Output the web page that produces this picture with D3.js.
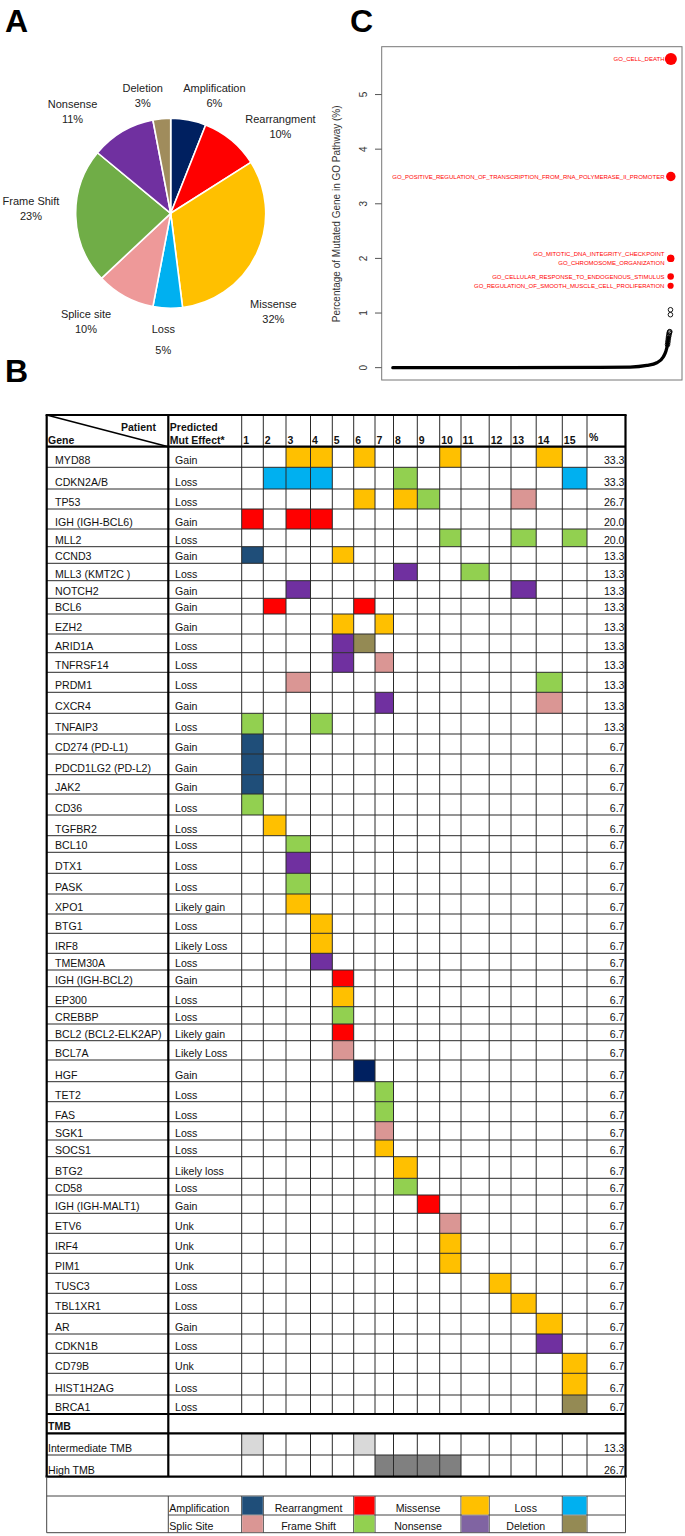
<!DOCTYPE html>
<html><head><meta charset="utf-8">
<script src="https://cdn.jsdelivr.net/npm/d3@7"></script>
<style>
html,body{margin:0;padding:0;background:#fff;}
svg{display:block;font-family:"Liberation Sans",Arial,sans-serif;}
</style></head><body>
<svg id="fig" width="685" height="1536"></svg>
<script>
// ================= DATA =================
// Panel A: mutation-type distribution (%)
const pieCategories = ["Amplification","Rearrangment","Missense","Loss","Splice site","Frame Shift","Nonsense","Deletion"];
const piePercents   = [6, 10, 32, 5, 10, 23, 11, 3];

// Panel C: percentage of mutated genes per GO pathway (sorted ascending)
const goPathwayCount = 5000;
const goCurveRanks  = [1, 3726, 4266, 4567, 4747, 4866, 4910, 4939, 4957];
const goCurveValues = [0, 0.005, 0.01, 0.04, 0.09, 0.2, 0.3, 0.42, 0.55];
const goTailRanks   = [4940, 4945, 4950, 4955, 4960, 4965, 4970, 4975, 4980, 4992, 4993];
const goTailValues  = [0.42, 0.46, 0.5, 0.54, 0.57, 0.6, 0.63, 0.65, 0.66, 0.97, 1.06];
const goTopTerms = [
  "GO_REGULATION_OF_SMOOTH_MUSCLE_CELL_PROLIFERATION",
  "GO_CELLULAR_RESPONSE_TO_ENDOGENOUS_STIMULUS",
  "GO_CHROMOSOME_ORGANIZATION",
  "GO_MITOTIC_DNA_INTEGRITY_CHECKPOINT",
  "GO_POSITIVE_REGULATION_OF_TRANSCRIPTION_FROM_RNA_POLYMERASE_II_PROMOTER",
  "GO_CELL_DEATH"];
const goTopValues = [1.5, 1.67, 2.0, 2.0, 3.5, 5.65];
const goYTicks = [0, 1, 2, 3, 4, 5];
const goYTitle = "Percentage of Mutated Gene in GO Pathway (%)";

// Panel B: oncoprint table
const patients = [1,2,3,4,5,6,7,8,9,10,11,12,13,14,15];
const genes = ["MYD88","CDKN2A/B","TP53","IGH (IGH-BCL6)","MLL2","CCND3","MLL3  (KMT2C )","NOTCH2","BCL6","EZH2",
  "ARID1A","TNFRSF14","PRDM1","CXCR4","TNFAIP3","CD274 (PD-L1)","PDCD1LG2 (PD-L2)","JAK2","CD36","TGFBR2",
  "BCL10","DTX1","PASK","XPO1","BTG1","IRF8","TMEM30A","IGH (IGH-BCL2)","EP300","CREBBP",
  "BCL2 (BCL2-ELK2AP)","BCL7A","HGF","TET2","FAS","SGK1","SOCS1","BTG2","CD58","IGH (IGH-MALT1)",
  "ETV6","IRF4","PIM1","TUSC3","TBL1XR1","AR","CDKN1B","CD79B","HIST1H2AG","BRCA1"];
const predictedEffect = ["Gain","Loss","Loss","Gain","Loss","Gain","Loss","Gain","Gain","Gain",
  "Loss","Loss","Loss","Gain","Loss","Gain","Gain","Gain","Loss","Loss",
  "Loss","Loss","Loss","Likely gain","Loss","Likely Loss","Loss","Gain","Loss","Loss",
  "Likely gain","Likely Loss","Gain","Loss","Loss","Loss","Loss","Likely loss","Loss","Gain",
  "Unk","Unk","Unk","Loss","Loss","Gain","Loss","Unk","Loss","Loss"];
const genePercent = ["33.3","33.3","26.7","20.0","20.0","13.3","13.3","13.3","13.3","13.3",
  "13.3","13.3","13.3","13.3","13.3","6.7","6.7","6.7","6.7","6.7",
  "6.7","6.7","6.7","6.7","6.7","6.7","6.7","6.7","6.7","6.7",
  "6.7","6.7","6.7","6.7","6.7","6.7","6.7","6.7","6.7","6.7",
  "6.7","6.7","6.7","6.7","6.7","6.7","6.7","6.7","6.7","6.7"];
// [patient, mutation type]
const geneMutations = [
  [[3,"Missense"],[4,"Missense"],[6,"Missense"],[10,"Missense"],[14,"Missense"]],
  [[2,"Loss"],[3,"Loss"],[4,"Loss"],[8,"Frame Shift"],[15,"Loss"]],
  [[6,"Missense"],[8,"Missense"],[9,"Frame Shift"],[13,"Splice site"]],
  [[1,"Rearrangment"],[3,"Rearrangment"],[4,"Rearrangment"]],
  [[10,"Frame Shift"],[13,"Frame Shift"],[15,"Frame Shift"]],
  [[1,"Amplification"],[5,"Missense"]],
  [[8,"Nonsense"],[11,"Frame Shift"]],
  [[3,"Nonsense"],[13,"Nonsense"]],
  [[2,"Rearrangment"],[6,"Rearrangment"]],
  [[5,"Missense"],[7,"Missense"]],
  [[5,"Nonsense"],[6,"Deletion"]],
  [[5,"Nonsense"],[7,"Splice site"]],
  [[3,"Splice site"],[14,"Frame Shift"]],
  [[7,"Nonsense"],[14,"Splice site"]],
  [[1,"Frame Shift"],[4,"Frame Shift"]],
  [[1,"Amplification"]],
  [[1,"Amplification"]],
  [[1,"Amplification"]],
  [[1,"Frame Shift"]],
  [[2,"Missense"]],
  [[3,"Frame Shift"]],
  [[3,"Nonsense"]],
  [[3,"Frame Shift"]],
  [[3,"Missense"]],
  [[4,"Missense"]],
  [[4,"Missense"]],
  [[4,"Nonsense"]],
  [[5,"Rearrangment"]],
  [[5,"Missense"]],
  [[5,"Frame Shift"]],
  [[5,"Rearrangment"]],
  [[5,"Splice site"]],
  [[6,"Amplification"]],
  [[7,"Frame Shift"]],
  [[7,"Frame Shift"]],
  [[7,"Splice site"]],
  [[7,"Missense"]],
  [[8,"Missense"]],
  [[8,"Frame Shift"]],
  [[9,"Rearrangment"]],
  [[10,"Splice site"]],
  [[10,"Missense"]],
  [[10,"Missense"]],
  [[12,"Missense"]],
  [[13,"Missense"]],
  [[14,"Missense"]],
  [[14,"Nonsense"]],
  [[15,"Missense"]],
  [[15,"Missense"]],
  [[15,"Deletion"]]
];
const tmbLevels   = ["Intermediate TMB","High TMB"];
const tmbPatients = [[1,6],[7,8,9,10]];
const tmbPercent  = ["13.3","26.7"];
const legendRow1 = ["Amplification","Rearrangment","Missense","Loss"];
const legendRow2 = ["Splic Site","Frame Shift","Nonsense","Deletion"];

// ================= STYLE / LAYOUT =================
const pieColors = ["#002060","#FF0000","#FFC000","#00B0F0","#EE9999","#70AD47","#7030A0","#A08C5C"];
const pieLabelLayout = [ // angle (deg from 12 o'clock), distance, line gap
  {a:20.3,r:126,g:15},{a:51.6,r:140,g:15},{a:133.6,r:141.7,g:15},{a:183.35,r:126.6,g:20.7},
  {a:218,r:137.6,g:15},{a:272,r:139.8,g:15},{a:316,r:141.4,g:15},{a:346.6,r:120.8,g:15}];
const cellColors = {"Amplification":"#1F4E79","Rearrangment":"#FF0000","Missense":"#FFC000","Loss":"#00B0F0",
  "Splice site":"#DA9694","Frame Shift":"#92D050","Nonsense":"#7030A0","Deletion":"#948A54"};
const cellOverride = {"HGF|6":"#002060"};
const legendColors1 = ["#1F4E79","#FF0000","#FFC000","#00B0F0"];
const legendColors2 = ["#DA9694","#92D050","#8064A2","#948A54"];
const tmbColors = ["#D9D9D9","#808080"];
const T = {left:46.7, geneR:168.3, predR:241.7, right:625.5, top:415, headB:446.7};
const colW = [21.6,22.7,24.5,21.8,21.4,21.3,18.5,23.8,22.4,21.3,28.2,21.8,25.2,26.1,24.7];
const rowH = [20.6,21.7,20,20,17.7,16.6,17.4,17.6,15.7,20,18.7,19.6,20,21,20.7,20,20.7,19.3,21,20.7,
  16.6,21,20.7,20,19.3,20,16.7,16.7,20,17.3,16.7,19.3,21.7,20,20,18.3,16.7,21.6,16.7,18.3,
  20,20,20,20,20,20.7,19.3,20,21.7,19];
const tmbRowH = [19.3,21.7,21.7];
const legendRowH = [19.3,19,17.7];

// ================= DRAW =================
const svg = d3.select("#fig");
const TXT = "#111";

// panel letters
[["A",5,31.5],["B",5,382],["C",350,31.5]].forEach(([t,x,y])=>{
  svg.append("text").attr("x",x).attr("y",y).attr("font-size",32).attr("font-weight","bold")
    .attr("font-family","Liberation Sans, Arial").text(t);
});

// ---------- Panel A ----------
{
  const cx=170.7, cy=213.3, R=95;
  const g = svg.append("g").attr("transform",`translate(${cx},${cy})`);
  const arcs = d3.pie().sort(null).value(d=>d)(piePercents);
  const arc = d3.arc().innerRadius(0).outerRadius(R);
  g.selectAll("path").data(arcs).join("path").attr("d",arc)
    .attr("fill",(d,i)=>pieColors[i]).attr("stroke","#fff").attr("stroke-width",1.6).attr("stroke-linejoin","round");
  pieCategories.forEach((c,i)=>{
    const L = pieLabelLayout[i];
    const [lx,ly] = d3.pointRadial(L.a*Math.PI/180, L.r);
    const t = g.append("text").attr("text-anchor","middle").attr("font-size",11).attr("fill","#222");
    t.append("tspan").attr("x",lx).attr("y",ly - L.g/2 + 4).text(c);
    t.append("tspan").attr("x",lx).attr("y",ly + L.g/2 + 4).text(piePercents[i] + "%");
  });
}

// ---------- Panel C ----------
{
  const N = goPathwayCount;
  const box = {l:381.7, r:682, t:46.7, b:380};
  const ymax = d3.max(goTopValues);
  const x = d3.scaleLinear().domain([1-0.04*(N-1), N+0.04*(N-1)]).range([box.l, box.r]);
  const y = d3.scaleLinear().domain([-0.04*ymax, ymax*1.04]).range([box.b, box.t]);
  const g = svg.append("g");
  g.append("rect").attr("x",box.l).attr("y",box.t).attr("width",box.r-box.l).attr("height",box.b-box.t)
    .attr("fill","none").attr("stroke","#777").attr("stroke-width",1);
  // axis
  const ax = g.append("g");
  ax.selectAll("line").data(goYTicks).join("line")
    .attr("x1",box.l-6.7).attr("x2",box.l).attr("y1",d=>y(d)).attr("y2",d=>y(d))
    .attr("stroke","#555").attr("stroke-width",1);
  ax.selectAll("text").data(goYTicks).join("text")
    .attr("transform",d=>`translate(${box.l-15},${y(d)}) rotate(-90)`)
    .attr("text-anchor","middle").attr("font-size",10).attr("fill","#333").text(d=>d);
  g.append("text").attr("transform",`translate(340,${(box.t+box.b)/2+0.5}) rotate(-90)`)
    .attr("text-anchor","middle").attr("font-size",10).attr("fill","#333").text(goYTitle);
  // bulk curve
  const curvePts = goCurveRanks.map((r,i)=>[r,goCurveValues[i]]);
  g.append("path").datum(curvePts)
    .attr("d", d3.line().x(d=>x(d[0])).y(d=>y(d[1])).curve(d3.curveMonotoneX))
    .attr("fill","none").attr("stroke","#000").attr("stroke-width",3.3).attr("stroke-linecap","round");
  // tail circles
  g.selectAll("circle.tail").data(goTailRanks.map((r,i)=>[r,goTailValues[i]])).join("circle")
    .attr("class","tail").attr("cx",d=>x(d[0])).attr("cy",d=>y(d[1])).attr("r",2.3)
    .attr("fill","none").attr("stroke","#000").attr("stroke-width",0.9);
  // top pathways
  const rs = d3.scaleSqrt().domain([0, ymax]).range([0, 6]);
  const top = goTopValues.map((v,i)=>({v, rank:N-(goTopValues.length-1-i), term:goTopTerms[i], i}));
  g.selectAll("circle.top").data(top).join("circle").attr("class","top")
    .attr("cx",d=>x(d.rank)).attr("cy",d=>y(d.v)).attr("r",d=>rs(d.v)).attr("fill","#FF0000");
  top.forEach(d=>{
    const ties = top.filter(e=>e.v===d.v);
    let off = 0;
    if (ties.length>1) off = (ties.indexOf(d) === ties.length-1) ? -4.6 : 4.4;
    g.append("text").attr("x", x(N)-6.4).attr("y", y(d.v)+off).attr("dy","0.35em")
      .attr("text-anchor","end").attr("font-size",6.0).attr("fill","#FF0000").text(d.term);
  });
}

// ---------- Panel B ----------
{
  const g = svg.append("g");
  const colEdges = [T.predR, ...Array.from(d3.cumsum(colW), c=>T.predR+c)];
  const px = d3.scaleLinear().domain(d3.range(colEdges.length)).range(colEdges);
  const rowEdges = [T.headB, ...Array.from(d3.cumsum(rowH), c=>T.headB+c)];
  const ry = d3.scaleLinear().domain(d3.range(rowEdges.length)).range(rowEdges);
  const geneBottom = ry(genes.length);
  const tmbEdges = [geneBottom, ...Array.from(d3.cumsum(tmbRowH), c=>geneBottom+c)];
  const tableBottom = tmbEdges[3];
  const legEdges = [tableBottom, ...Array.from(d3.cumsum(legendRowH), c=>tableBottom+c)];

  // colored cells
  const cells = [];
  genes.forEach((gname,i)=>geneMutations[i].forEach(([p,type])=>cells.push({i,p,fill: cellOverride[gname+"|"+p] || cellColors[type]})));
  g.selectAll("rect.cell").data(cells).join("rect").attr("class","cell")
    .attr("x",d=>px(d.p-1)).attr("width",d=>px(d.p)-px(d.p-1))
    .attr("y",d=>ry(d.i)).attr("height",d=>ry(d.i+1)-ry(d.i)).attr("fill",d=>d.fill);
  tmbLevels.forEach((lv,k)=>{
    g.selectAll(null).data(tmbPatients[k]).join("rect")
      .attr("x",p=>px(p-1)).attr("width",p=>px(p)-px(p-1))
      .attr("y",tmbEdges[k+1]).attr("height",tmbEdges[k+2]-tmbEdges[k+1]).attr("fill",tmbColors[k]);
  });

  const thin = (x1,y1,x2,y2,c="#2a2a2a",w=1)=>g.append("line").attr("x1",x1).attr("y1",y1).attr("x2",x2).attr("y2",y2).attr("stroke",c).attr("stroke-width",w);
  // horizontal thin lines (gene rows)
  for (let k=1;k<genes.length;k++) thin(T.left, ry(k), T.right, ry(k));
  thin(T.left, tmbEdges[2], T.right, tmbEdges[2]);
  // vertical thin lines
  const vx = [T.predR, ...d3.range(1,16).map(k=>px(k))];
  vx.forEach(xv=>{ thin(xv, T.top, xv, geneBottom); thin(xv, tmbEdges[1], xv, tableBottom); });
  // thick lines
  const thick = (x1,y1,x2,y2)=>thin(x1,y1,x2,y2,"#000",2.2);
  thick(T.left-1.1, T.top, T.right+1.1, T.top);
  thick(T.left, T.top, T.left, tableBottom);
  thick(T.right, T.top, T.right, tableBottom);
  thick(T.geneR, T.top, T.geneR, tableBottom);
  thick(T.left, T.headB, T.right, T.headB);
  thick(T.left, geneBottom, T.right, geneBottom);
  thick(T.left, tmbEdges[1], T.right, tmbEdges[1]);
  thick(T.left-1.1, tableBottom, T.right+1.1, tableBottom);
  // diagonal header
  thin(T.left, T.top, T.geneR, T.headB, "#000", 1.6);

  // header texts
  const txt = (x,y,s,opt={})=>g.append("text").attr("x",x).attr("y",y).attr("font-size",opt.fs||10.6)
     .attr("font-weight",opt.b?"bold":"normal").attr("text-anchor",opt.a||"start").attr("fill",TXT).text(s);
  txt(156, 430.5, "Patient", {b:1, a:"end", fs:10.5});
  txt(48, 443.5, "Gene", {b:1, fs:10.5});
  txt(169.8, 430.5, "Predicted", {b:1, fs:10.5});
  txt(169.8, 443.5, "Mut Effect*", {b:1, fs:10.5});
  patients.forEach(p=>txt(px(p-1)+1.5, 443.5, String(p), {b:1, fs:10.5}));
  txt(589, 441, "%", {b:1, fs:10.5});

  // row texts
  genes.forEach((gname,i)=>{
    const yb = ry(i+1) - 3;
    txt(55, yb, gname);
    txt(175, yb, predictedEffect[i]);
    txt(624.5, yb, genePercent[i], {a:"end"});
  });
  txt(48, tmbEdges[1]-3, "TMB", {b:1, fs:10.5});
  tmbLevels.forEach((lv,k)=>{
    txt(48, tmbEdges[k+2]-3, lv);
    txt(624.5, tmbEdges[k+2]-3, tmbPercent[k], {a:"end"});
  });

  // legend block
  const lc = "#444";
  thin(T.left, tableBottom, T.left, legEdges[3], lc);
  thin(T.right, tableBottom, T.right, legEdges[3], lc);
  thin(T.left, legEdges[1], T.right, legEdges[1], lc);
  thin(T.geneR, legEdges[2], T.right, legEdges[2], lc);
  thin(T.left, legEdges[3], T.right, legEdges[3], lc);
  const swatchCols = [1,6,11,15];
  const labelSpans = [[T.geneR, px(0)],[px(1),px(5)],[px(6),px(10)],[px(11),px(14)]];
  [T.geneR, px(0), px(1), px(5), px(6), px(10), px(11), px(14), px(15)].forEach(xv=>thin(xv, legEdges[1], xv, legEdges[3], lc));
  [legendRow1, legendRow2].forEach((row,r)=>{
    const cols = r===0 ? legendColors1 : legendColors2;
    const y0 = legEdges[r+1], y1 = legEdges[r+2];
    row.forEach((lab,k)=>{
      const c = swatchCols[k];
      g.append("rect").attr("x",px(c-1)+0.5).attr("y",y0+0.5).attr("width",px(c)-px(c-1)-1).attr("height",y1-y0-1).attr("fill",cols[k]);
      const [a,b] = labelSpans[k];
      if (k===0) txt(a+1, y1-3, lab);
      else txt((a+b)/2, y1-3, lab, {a:"middle"});
    });
  });
}
</script>
</body></html>
